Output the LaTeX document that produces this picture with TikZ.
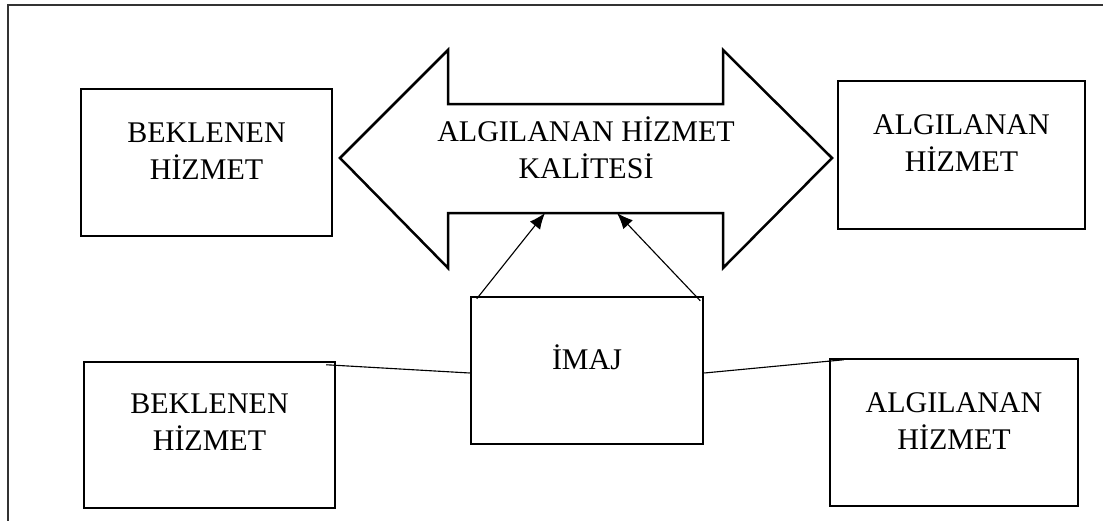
\documentclass[tikz,border=0pt]{standalone}
\usepackage{fontspec}
\setmainfont{Liberation Serif}
\usetikzlibrary{calc,arrows.meta}

\begin{document}
\begin{tikzpicture}[>={Latex[length=6.4pt,width=5.2pt]}, x=0.4pt, y=-0.4pt,
    box/.style={draw, line width=1pt, inner sep=0pt},
    txt/.style={align=center, font=\fontsize{12}{14.8}\selectfont, inner sep=0pt},
    link/.style={line width=0.45pt}]
    % Define size of the picture (in pixels of the original)
    \def\PicW{1103};
    \def\PicH{520};
    \def\px{0.4pt};

    \useasboundingbox (0,0) rectangle (\PicW,\PicH);

    % Draw outer frame
    \draw[line width=0.9pt, black!80] (8,\PicH+10) -- (8,5) -- (\PicW+10,5);

    % Draw double arrow of service quality
    \draw[line width=1pt] (340,158) -- (448,50) -- (448,104) -- (723,104) -- (723,50)
        -- (832,158) -- (723,268) -- (723,213) -- (448,213) -- (448,268) -- cycle;
    \coordinate (shaftL) at (545,213);
    \coordinate (shaftR) at (617,213);
    \node[txt] (quality) at (586,148) {ALGILANAN HİZMET\\KALİTESİ};

    % Draw upper boxes
    \node[box, minimum width={251*\px}, minimum height={147*\px}] (expTop) at (206.5,162.5) {};
    \node[txt] (expTopText) at (206.5,151.5) {BEKLENEN\\HİZMET};
    \node[box, minimum width={247*\px}, minimum height={148*\px}] (perTop) at (961.5,155) {};
    \node[txt] (perTopText) at (961.5,143.5) {ALGILANAN\\HİZMET};

    % Draw image box
    \node[box, minimum width={232*\px}, minimum height={147*\px}] (imaj) at (587,370.5) {};
    \node[txt] (imajText) at (587,357.5) {İMAJ};

    % Draw lower boxes
    \node[box, minimum width={251*\px}, minimum height={146*\px}] (expBot) at (209.5,435) {};
    \node[txt] (expBotText) at (209.5,422.5) {BEKLENEN\\HİZMET};
    \node[box, minimum width={248*\px}, minimum height={147*\px}] (perBot) at (954,432.5) {};
    \node[txt] (perBotText) at (954,421.5) {ALGILANAN\\HİZMET};

    % Draw arrows from image to quality
    \draw[link, ->] ([xshift=2.8pt,yshift=-1.2pt]imaj.north west) -- (shaftL);
    \draw[link, ->] ([xshift=-1.6pt,yshift=-2pt]imaj.north east) -- (shaftR);

    % Draw lines from image to lower boxes
    \draw[link] ([yshift=-1pt]imaj.west) -- ([xshift=-4pt,yshift=-1.6pt]expBot.north east);
    \draw[link] ([yshift=-1pt]imaj.east) -- ([xshift=6pt,yshift=-0.8pt]perBot.north west);
\end{tikzpicture}
\end{document}
